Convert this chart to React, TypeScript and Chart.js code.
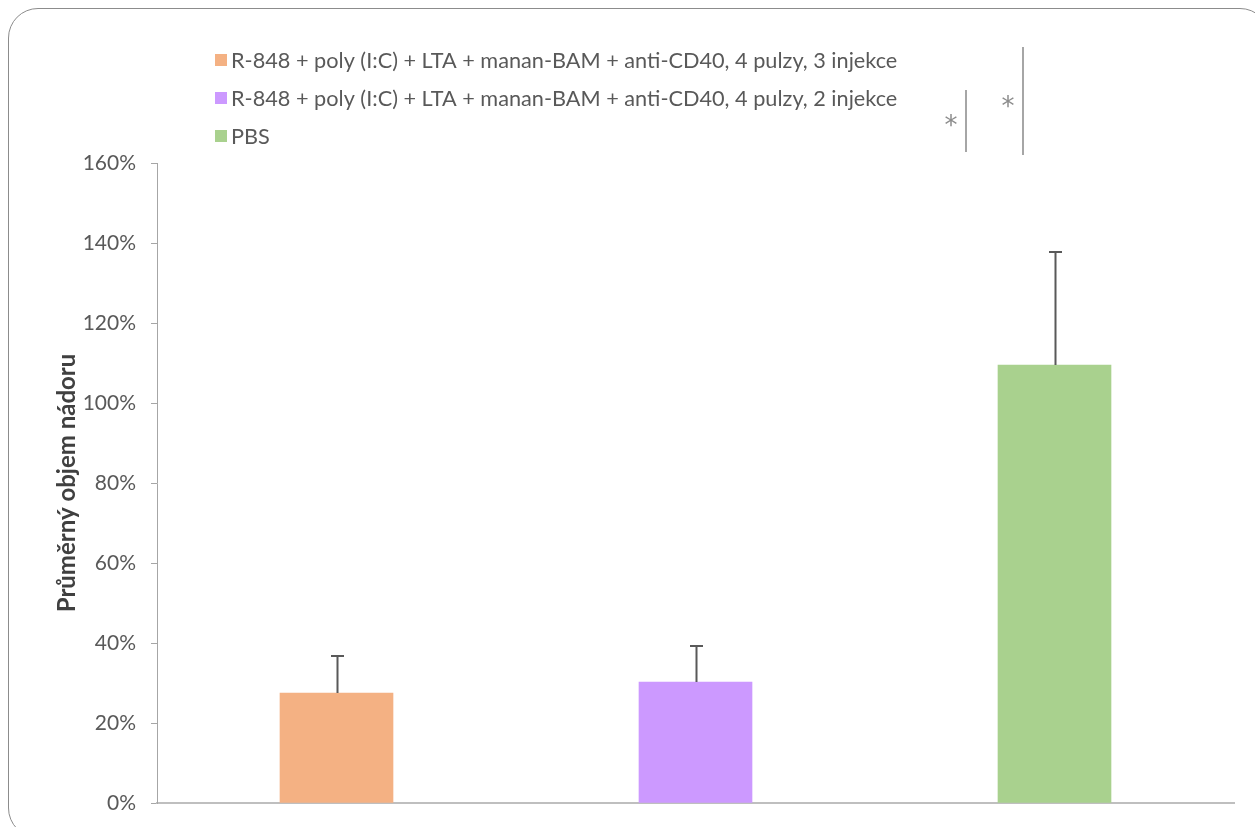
import React, { useEffect, useRef } from 'react';
import { Chart, registerables } from 'chart.js';

Chart.register(...registerables);

const seriesLabels = [
  'R-848 + poly (I:C) + LTA + manan-BAM + anti-CD40, 4 pulzy, 3 injekce',
  'R-848 + poly (I:C) + LTA + manan-BAM + anti-CD40, 4 pulzy, 2 injekce',
  'PBS',
];
const categories = ['A', 'B', 'C'];
const meanValues = [27.5, 30.25, 109.5];
const errorUp = [9.25, 9.0, 28.25];
const barColors = ['#F4B183', '#CC99FF', '#A9D18E'];
const yMin = 0;
const yMax = 160;
const yStep = 20;
const yTitle = 'Průměrný objem nádoru';
const sigMarks = ['*', '*'];

const FONT = 'Lato, "Noto Sans", sans-serif';

const errorBarPlugin = {
  id: 'errorBars',
  afterDatasetsDraw(chart: any) {
    const ctx = chart.ctx;
    const meta = chart.getDatasetMeta(0);
    const y = chart.scales.y;
    ctx.save();
    ctx.strokeStyle = '#595959';
    ctx.lineWidth = 2;
    meta.data.forEach((bar: any, i: number) => {
      const x = Math.round(bar.x) + 0.5;
      const yb = y.getPixelForValue(meanValues[i]);
      const yt = Math.round(y.getPixelForValue(meanValues[i] + errorUp[i]));
      ctx.beginPath();
      ctx.moveTo(x, yb);
      ctx.lineTo(x, yt);
      ctx.moveTo(x - 6.5, yt);
      ctx.lineTo(x + 6.5, yt);
      ctx.stroke();
    });
    ctx.restore();
  },
};

const legendPlugin = {
  id: 'customLegend',
  afterDraw(chart: any) {
    const ctx = chart.ctx;
    ctx.save();
    ctx.font = `21.7px ${FONT}`;
    ctx.textBaseline = 'middle';
    seriesLabels.forEach((label, i) => {
      const cy = 60 + i * 38;
      ctx.fillStyle = barColors[i];
      ctx.fillRect(215, cy - 6, 12, 12);
      ctx.fillStyle = '#595959';
      ctx.fillText(label, 231, cy + 1);
    });
    ctx.restore();
  },
};

const sigPlugin = {
  id: 'significance',
  afterDraw(chart: any) {
    const ctx = chart.ctx;
    ctx.save();
    ctx.strokeStyle = '#A6A6A6';
    ctx.lineWidth = 2;
    ctx.beginPath();
    ctx.moveTo(966, 90);
    ctx.lineTo(966, 152);
    ctx.moveTo(1023, 47);
    ctx.lineTo(1023, 155);
    ctx.stroke();
    ctx.fillStyle = '#8C8C8C';
    ctx.font = `26px "DejaVu Sans", sans-serif`;
    ctx.textAlign = 'center';
    ctx.textBaseline = 'middle';
    ctx.fillText(sigMarks[0], 951, 127);
    ctx.fillText(sigMarks[1], 1008, 108);
    ctx.restore();
  },
};

export default function App() {
  const ref = useRef<HTMLCanvasElement>(null);
  useEffect(() => {
    if (!ref.current) return;
    const chart = new Chart(ref.current, {
      type: 'bar',
      data: {
        labels: categories,
        datasets: [
          {
            label: 'data',
            data: meanValues,
            backgroundColor: barColors,
            barThickness: 113,
          },
        ],
      },
      options: {
        responsive: false,
        animation: false,
        layout: { padding: { left: 8, right: 21, top: 163, bottom: 24 } },
        plugins: {
          legend: { display: false },
          tooltip: { enabled: false },
        },
        scales: {
          x: {
            afterFit: (scale: any) => {
              scale.height = 0;
            },
            ticks: { display: false },
            grid: { display: false },
            border: { display: true, color: '#BFBFBF', width: 2 },
          },
          y: {
            min: yMin,
            max: yMax,
            afterFit: (scale: any) => {
              scale.width = 149;
              scale.paddingTop = 12;
              scale.paddingBottom = 12;
            },
            ticks: {
              stepSize: yStep,
              callback: (v: any) => `${v}%`,
              color: '#595959',
              font: { family: FONT, size: 21 },
              padding: 15,
            },
            grid: {
              display: true,
              drawOnChartArea: false,
              tickLength: 6,
              color: '#A6A6A6',
            },
            border: { display: true, color: '#A6A6A6', width: 1 },
            title: {
              display: true,
              text: yTitle,
              color: '#404040',
              font: { family: FONT, size: 24, weight: 'bold' },
              padding: { top: 45, bottom: 0 },
            },
          },
        },
      },
      plugins: [errorBarPlugin, legendPlugin, sigPlugin],
    });
    return () => chart.destroy();
  }, []);

  return (
    <div style={{ position: 'fixed', left: 0, top: 0, width: 1255, height: 827, overflow: 'hidden', background: '#fff' }}>
      <div
        style={{
          position: 'absolute',
          left: 8,
          top: 8,
          width: 1262,
          height: 830,
          border: '1.5px solid #8C8C8C',
          borderRadius: 30,
          boxSizing: 'border-box',
        }}
      />
      <canvas ref={ref} width={1255} height={827} style={{ position: 'absolute', left: 0, top: 0 }} />
    </div>
  );
}
